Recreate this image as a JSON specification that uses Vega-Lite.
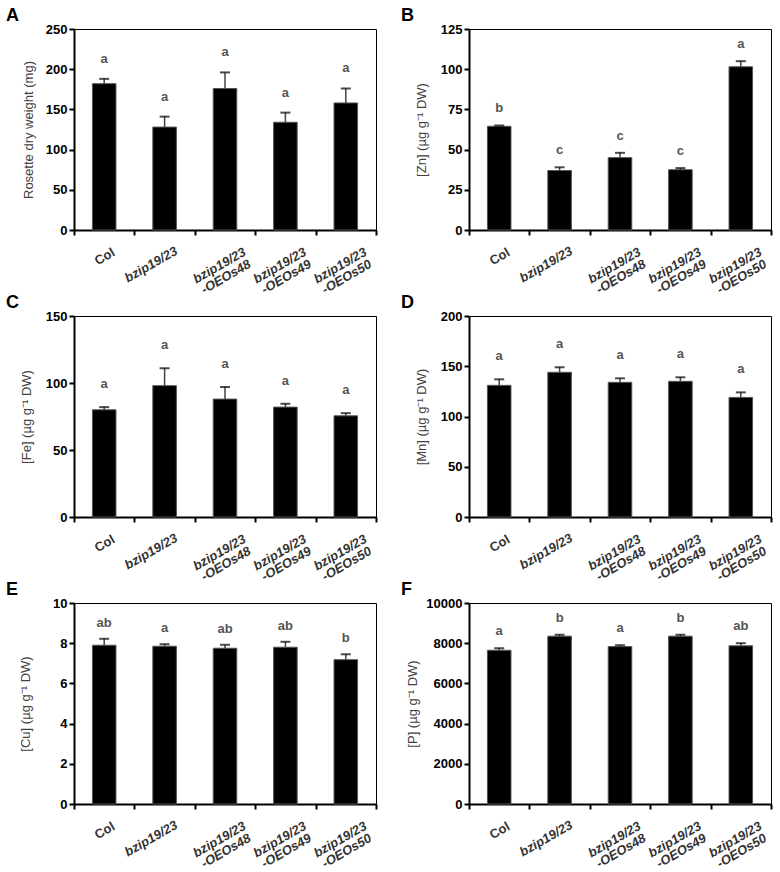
{
  "$schema": "https://vega.github.io/schema/vega-lite/v6.json",
  "padding": {"left": 5, "top": 6, "right": 5, "bottom": 0},
  "background": "white",
  "bounds": "flush",
  "columns": 2,
  "spacing": {"row": 86, "column": 93},
  "config": {
    "font": "Liberation Sans",
    "view": {"stroke": "black", "strokeWidth": 1},
    "axis": {
      "domainColor": "black", "domainWidth": 2, "tickColor": "black", "tickWidth": 2, "tickSize": 5,
      "labelFont": "Liberation Sans", "labelFontWeight": "bold", "labelFontSize": 13, "labelColor": "black",
      "titleFont": "Liberation Sans", "titleFontWeight": "normal", "titleFontSize": 13, "titleColor": "#404040",
      "grid": false
    },
    "axisX": {
      "title": null, "tickBand": "extent", "labelAngle": -30, "labelAlign": "center", "labelBaseline": "top", "labelColor": "#333",
      "labelExpr": "split(datum.label, ' ')", "labelLineHeight": 13,
      "labelPadding": {"condition": [{"test": "datum.value === 'Col'", "value": 16}, {"test": "datum.value === 'bzip19/23'", "value": 24}], "value": 25},
      "labelOffset": {"condition": [{"test": "datum.value === 'Col'", "value": -3}, {"test": "datum.value === 'bzip19/23'", "value": -17}], "value": -9},
      "labelFontStyle": {"condition": {"test": "datum.value !== 'Col'", "value": "italic"}, "value": "normal"}
    },
    "title": {"font": "Liberation Sans", "fontSize": 18, "fontWeight": "bold", "anchor": "start", "frame": "group", "dx": -68, "offset": -2, "color": "black"}
  },
  "datasets": {
    "all": [
      {"panel": "A", "genotype": "Col", "value": 182, "upper": 188, "letter": "a"},
      {"panel": "A", "genotype": "bzip19/23", "value": 128, "upper": 141, "letter": "a"},
      {"panel": "A", "genotype": "bzip19/23 -OEOs48", "value": 176, "upper": 196, "letter": "a"},
      {"panel": "A", "genotype": "bzip19/23 -OEOs49", "value": 134, "upper": 146, "letter": "a"},
      {"panel": "A", "genotype": "bzip19/23 -OEOs50", "value": 158, "upper": 176, "letter": "a"},
      {"panel": "B", "genotype": "Col", "value": 64.5, "upper": 65, "letter": "b"},
      {"panel": "B", "genotype": "bzip19/23", "value": 37, "upper": 39, "letter": "c"},
      {"panel": "B", "genotype": "bzip19/23 -OEOs48", "value": 45, "upper": 48, "letter": "c"},
      {"panel": "B", "genotype": "bzip19/23 -OEOs49", "value": 37.5, "upper": 38.5, "letter": "c"},
      {"panel": "B", "genotype": "bzip19/23 -OEOs50", "value": 101.5, "upper": 105, "letter": "a"},
      {"panel": "C", "genotype": "Col", "value": 80, "upper": 82, "letter": "a"},
      {"panel": "C", "genotype": "bzip19/23", "value": 98, "upper": 111, "letter": "a"},
      {"panel": "C", "genotype": "bzip19/23 -OEOs48", "value": 88, "upper": 97, "letter": "a"},
      {"panel": "C", "genotype": "bzip19/23 -OEOs49", "value": 82, "upper": 84.5, "letter": "a"},
      {"panel": "C", "genotype": "bzip19/23 -OEOs50", "value": 75.5, "upper": 77.5, "letter": "a"},
      {"panel": "D", "genotype": "Col", "value": 131, "upper": 137, "letter": "a"},
      {"panel": "D", "genotype": "bzip19/23", "value": 144, "upper": 149, "letter": "a"},
      {"panel": "D", "genotype": "bzip19/23 -OEOs48", "value": 134, "upper": 138, "letter": "a"},
      {"panel": "D", "genotype": "bzip19/23 -OEOs49", "value": 135, "upper": 139, "letter": "a"},
      {"panel": "D", "genotype": "bzip19/23 -OEOs50", "value": 119, "upper": 124, "letter": "a"},
      {"panel": "E", "genotype": "Col", "value": 7.9, "upper": 8.22, "letter": "ab"},
      {"panel": "E", "genotype": "bzip19/23", "value": 7.85, "upper": 7.95, "letter": "a"},
      {"panel": "E", "genotype": "bzip19/23 -OEOs48", "value": 7.75, "upper": 7.92, "letter": "ab"},
      {"panel": "E", "genotype": "bzip19/23 -OEOs49", "value": 7.8, "upper": 8.07, "letter": "ab"},
      {"panel": "E", "genotype": "bzip19/23 -OEOs50", "value": 7.18, "upper": 7.45, "letter": "b"},
      {"panel": "F", "genotype": "Col", "value": 7650, "upper": 7750, "letter": "a"},
      {"panel": "F", "genotype": "bzip19/23", "value": 8350, "upper": 8420, "letter": "b"},
      {"panel": "F", "genotype": "bzip19/23 -OEOs48", "value": 7830, "upper": 7900, "letter": "a"},
      {"panel": "F", "genotype": "bzip19/23 -OEOs49", "value": 8350, "upper": 8420, "letter": "b"},
      {"panel": "F", "genotype": "bzip19/23 -OEOs50", "value": 7870, "upper": 8000, "letter": "ab"}
    ]
  },
  "concat": [
    {
      "title": "A", "width": 302, "height": 201,
      "data": {"name": "all"}, "transform": [{"filter": "datum.panel === 'A'"}],
      "encoding": {"x": {"field": "genotype", "type": "nominal", "sort": null, "scale": {"paddingInner": 0, "paddingOuter": 0}}},
      "layer": [
        {"mark": {"type": "bar", "color": "black", "stroke": "#555", "strokeWidth": 1, "width": {"band": 0.39}},
          "encoding": {"y": {"field": "value", "type": "quantitative", "scale": {"domain": [0, 250], "nice": false}, "axis": {"title": "Rosette dry weight (mg)", "values": [0, 50, 100, 150, 200, 250], "titlePadding": 10}}}},
        {"mark": {"type": "rule", "color": "#444", "strokeWidth": 1.5}, "encoding": {"y": {"field": "value", "type": "quantitative"}, "y2": {"field": "upper"}}},
        {"mark": {"type": "tick", "color": "black", "thickness": 2, "size": 10}, "encoding": {"y": {"field": "upper", "type": "quantitative"}}},
        {"mark": {"type": "text", "color": "#555", "fontWeight": "bold", "fontSize": 13, "baseline": "middle", "dy": -20}, "encoding": {"y": {"field": "upper", "type": "quantitative"}, "text": {"field": "letter"}}}
      ]
    },
    {
      "title": "B", "width": 302, "height": 201,
      "data": {"name": "all"}, "transform": [{"filter": "datum.panel === 'B'"}],
      "encoding": {"x": {"field": "genotype", "type": "nominal", "sort": null, "scale": {"paddingInner": 0, "paddingOuter": 0}}},
      "layer": [
        {"mark": {"type": "bar", "color": "black", "stroke": "#555", "strokeWidth": 1, "width": {"band": 0.39}},
          "encoding": {"y": {"field": "value", "type": "quantitative", "scale": {"domain": [0, 125], "nice": false}, "axis": {"title": "[Zn] (µg g⁻¹ DW)", "values": [0, 25, 50, 75, 100, 125], "titlePadding": 12}}}},
        {"mark": {"type": "rule", "color": "#444", "strokeWidth": 1.5}, "encoding": {"y": {"field": "value", "type": "quantitative"}, "y2": {"field": "upper"}}},
        {"mark": {"type": "tick", "color": "black", "thickness": 2, "size": 10}, "encoding": {"y": {"field": "upper", "type": "quantitative"}}},
        {"mark": {"type": "text", "color": "#555", "fontWeight": "bold", "fontSize": 13, "baseline": "middle", "dy": -17}, "encoding": {"y": {"field": "upper", "type": "quantitative"}, "text": {"field": "letter"}}}
      ]
    },
    {
      "title": "C", "width": 302, "height": 201,
      "data": {"name": "all"}, "transform": [{"filter": "datum.panel === 'C'"}],
      "encoding": {"x": {"field": "genotype", "type": "nominal", "sort": null, "scale": {"paddingInner": 0, "paddingOuter": 0}}},
      "layer": [
        {"mark": {"type": "bar", "color": "black", "stroke": "#555", "strokeWidth": 1, "width": {"band": 0.39}},
          "encoding": {"y": {"field": "value", "type": "quantitative", "scale": {"domain": [0, 150], "nice": false}, "axis": {"title": "[Fe] (µg g⁻¹ DW)", "values": [0, 50, 100, 150], "titlePadding": 12}}}},
        {"mark": {"type": "rule", "color": "#444", "strokeWidth": 1.5}, "encoding": {"y": {"field": "value", "type": "quantitative"}, "y2": {"field": "upper"}}},
        {"mark": {"type": "tick", "color": "black", "thickness": 2, "size": 10}, "encoding": {"y": {"field": "upper", "type": "quantitative"}}},
        {"mark": {"type": "text", "color": "#555", "fontWeight": "bold", "fontSize": 13, "baseline": "middle", "dy": -23}, "encoding": {"y": {"field": "upper", "type": "quantitative"}, "text": {"field": "letter"}}}
      ]
    },
    {
      "title": "D", "width": 302, "height": 201,
      "data": {"name": "all"}, "transform": [{"filter": "datum.panel === 'D'"}],
      "encoding": {"x": {"field": "genotype", "type": "nominal", "sort": null, "scale": {"paddingInner": 0, "paddingOuter": 0}}},
      "layer": [
        {"mark": {"type": "bar", "color": "black", "stroke": "#555", "strokeWidth": 1, "width": {"band": 0.39}},
          "encoding": {"y": {"field": "value", "type": "quantitative", "scale": {"domain": [0, 200], "nice": false}, "axis": {"title": "[Mn] (µg g⁻¹ DW)", "values": [0, 50, 100, 150, 200], "titlePadding": 12}}}},
        {"mark": {"type": "rule", "color": "#444", "strokeWidth": 1.5}, "encoding": {"y": {"field": "value", "type": "quantitative"}, "y2": {"field": "upper"}}},
        {"mark": {"type": "tick", "color": "black", "thickness": 2, "size": 10}, "encoding": {"y": {"field": "upper", "type": "quantitative"}}},
        {"mark": {"type": "text", "color": "#555", "fontWeight": "bold", "fontSize": 13, "baseline": "middle", "dy": -23}, "encoding": {"y": {"field": "upper", "type": "quantitative"}, "text": {"field": "letter"}}}
      ]
    },
    {
      "title": "E", "width": 302, "height": 201,
      "data": {"name": "all"}, "transform": [{"filter": "datum.panel === 'E'"}],
      "encoding": {"x": {"field": "genotype", "type": "nominal", "sort": null, "scale": {"paddingInner": 0, "paddingOuter": 0}}},
      "layer": [
        {"mark": {"type": "bar", "color": "black", "stroke": "#555", "strokeWidth": 1, "width": {"band": 0.39}},
          "encoding": {"y": {"field": "value", "type": "quantitative", "scale": {"domain": [0, 10], "nice": false}, "axis": {"title": "[Cu] (µg g⁻¹ DW)", "values": [0, 2, 4, 6, 8, 10], "titlePadding": 20}}}},
        {"mark": {"type": "rule", "color": "#444", "strokeWidth": 1.5}, "encoding": {"y": {"field": "value", "type": "quantitative"}, "y2": {"field": "upper"}}},
        {"mark": {"type": "tick", "color": "black", "thickness": 2, "size": 10}, "encoding": {"y": {"field": "upper", "type": "quantitative"}}},
        {"mark": {"type": "text", "color": "#555", "fontWeight": "bold", "fontSize": 13, "baseline": "middle", "dy": -16}, "encoding": {"y": {"field": "upper", "type": "quantitative"}, "text": {"field": "letter"}}}
      ]
    },
    {
      "title": "F", "width": 302, "height": 201,
      "data": {"name": "all"}, "transform": [{"filter": "datum.panel === 'F'"}],
      "encoding": {"x": {"field": "genotype", "type": "nominal", "sort": null, "scale": {"paddingInner": 0, "paddingOuter": 0}}},
      "layer": [
        {"mark": {"type": "bar", "color": "black", "stroke": "#555", "strokeWidth": 1, "width": {"band": 0.39}},
          "encoding": {"y": {"field": "value", "type": "quantitative", "scale": {"domain": [0, 10000], "nice": false}, "axis": {"title": "[P] (µg g⁻¹ DW)", "values": [0, 2000, 4000, 6000, 8000, 10000], "format": "d", "titlePadding": 6}}}},
        {"mark": {"type": "rule", "color": "#444", "strokeWidth": 1.5}, "encoding": {"y": {"field": "value", "type": "quantitative"}, "y2": {"field": "upper"}}},
        {"mark": {"type": "tick", "color": "black", "thickness": 2, "size": 10}, "encoding": {"y": {"field": "upper", "type": "quantitative"}}},
        {"mark": {"type": "text", "color": "#555", "fontWeight": "bold", "fontSize": 13, "baseline": "middle", "dy": -17}, "encoding": {"y": {"field": "upper", "type": "quantitative"}, "text": {"field": "letter"}}}
      ]
    }
  ]
}
